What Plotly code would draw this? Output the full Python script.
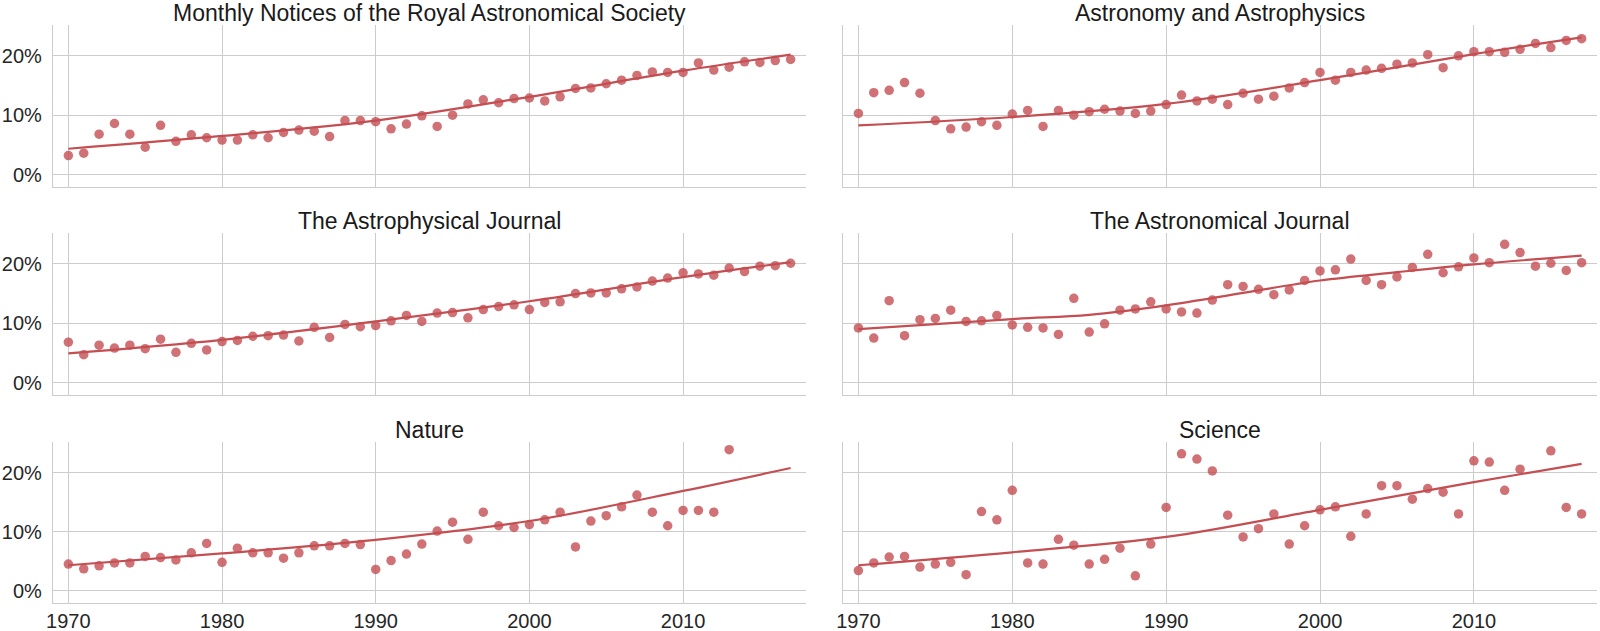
import plotly.graph_objects as go

years = list(range(1970, 2018))

titles = [
    "Monthly Notices of the Royal Astronomical Society",
    "Astronomy and Astrophysics",
    "The Astrophysical Journal",
    "The Astronomical Journal",
    "Nature",
    "Science",
]

# share of female authors (%), read per year 1970..2017 (None = no data)
mnras = [3.2, 3.6, 6.8, 8.6, 6.8, 4.6, 8.3, 5.6, 6.7, 6.2,
         5.8, 5.8, 6.7, 6.2, 7.1, 7.5, 7.3, 6.4, 9.1, 9.1,
         8.9, 7.7, 8.5, 9.9, 8.1, 10.0, 11.9, 12.6, 12.1, 12.8,
         12.9, 12.4, 13.1, 14.5, 14.6, 15.3, 15.9, 16.7, 17.3, 17.2,
         17.2, 18.8, 17.6, 18.1, 19.0, 18.9, 19.2, 19.4]
aa = [10.3, 13.8, 14.2, 15.5, 13.7, 9.1, 7.7, 8.0, 8.9, 8.3,
      10.2, 10.8, 8.1, 10.8, 10.0, 10.6, 11.0, 10.7, 10.3, 10.7,
      11.8, 13.4, 12.4, 12.7, 11.8, 13.7, 12.7, 13.2, 14.6, 15.5,
      17.2, 15.9, 17.2, 17.6, 17.9, 18.6, 18.8, 20.2, 18.0, 20.0,
      20.7, 20.7, 20.6, 21.1, 22.1, 21.4, 22.6, 22.9]
apj = [6.8, 4.7, 6.3, 5.8, 6.3, 5.7, 7.3, 5.1, 6.6, 5.5,
       6.9, 7.1, 7.8, 7.9, 8.0, 7.0, 9.3, 7.6, 9.8, 9.4,
       9.6, 10.4, 11.3, 10.3, 11.7, 11.8, 10.9, 12.3, 12.8, 13.1,
       12.3, 13.5, 13.6, 15.0, 15.1, 15.1, 15.8, 16.1, 17.1, 17.6,
       18.5, 18.3, 18.1, 19.3, 18.7, 19.6, 19.7, 20.1]
aj = [9.2, 7.5, 13.8, 7.9, 10.6, 10.8, 12.2, 10.3, 10.4, 11.3,
      9.7, 9.3, 9.2, 8.1, 14.2, 8.5, 9.9, 12.2, 12.4, 13.6,
      12.4, 11.9, 11.7, 13.9, 16.5, 16.2, 15.7, 14.8, 15.6, 17.2,
      18.8, 19.0, 20.8, 17.2, 16.5, 17.8, 19.4, 21.6, 18.5, 19.5,
      21.0, 20.2, 23.3, 21.9, 19.6, 20.1, 18.9, 20.2]
nature = [4.5, 3.7, 4.2, 4.7, 4.7, 5.8, 5.6, 5.2, 6.4, 8.0,
          4.8, 7.2, 6.4, 6.4, 5.5, 6.4, 7.6, 7.6, 8.0, 7.8,
          3.6, 5.1, 6.2, 7.9, 10.1, 11.6, 8.7, 13.3, 11.0, 10.7,
          11.2, 12.0, 13.3, 7.4, 11.8, 12.7, 14.2, 16.2, 13.3, 11.0,
          13.6, 13.6, 13.3, 23.9, None, None, None, None]
science = [3.4, 4.7, 5.7, 5.8, 4.0, 4.5, 4.8, 2.7, 13.4, 12.0,
           17.0, 4.7, 4.5, 8.7, 7.7, 4.5, 5.3, 7.2, 2.5, 7.9,
           14.1, 23.2, 22.3, 20.3, 12.8, 9.1, 10.5, 13.0, 7.9, 11.0,
           13.7, 14.2, 9.2, 13.0, 17.8, 17.8, 15.5, 17.3, 16.7, 13.0,
           22.0, 21.8, 17.0, 20.6, None, 23.7, 14.1, 13.0]

series = [mnras, aa, apj, aj, nature, science]

# fitted trend line at these years
trend_years = [
    [1970, 1980, 1990, 2000, 2010, 2017],
    [1970, 1980, 1990, 2000, 2010, 2017],
    [1970, 1980, 1990, 2000, 2010, 2017],
    [1970, 1980, 1985, 1990, 1995, 2000, 2005, 2010, 2017],
    [1970, 1980, 1990, 2000, 2010, 2017],
    [1970, 1980, 1990, 2000, 2010, 2017],
]
trend_vals = [
    [4.35, 6.5, 9.1, 13.1, 17.5, 20.2],
    [8.3, 9.7, 11.9, 15.9, 20.3, 23.1],
    [4.9, 7.2, 10.3, 13.7, 17.75, 20.3],
    [9.0, 10.7, 11.4, 13.0, 15.1, 17.2, 18.6, 19.9, 21.4],
    [4.3, 6.3, 8.6, 11.8, 16.9, 20.8],
    [4.3, 6.5, 9.1, 13.7, 18.4, 21.5],
]

x_ticks = [1970, 1980, 1990, 2000, 2010]
y_ticks = [0, 10, 20]
y_tick_text = ["0%", "10%", "20%"]

W, H = 1600, 631
ML, MR, MT, MB = 53, 3, 25, 28
PW, PH = W - ML - MR, H - MT - MB

def xdom(x0, x1):
    return [(x0 - ML) / PW, (x1 - ML) / PW]

def ydom(top, bot):
    return [(H - MB - bot) / PH, (H - MB - top) / PH]

col_px = [(53, 806), (843, 1597)]
row_px = [(25, 187), (233, 395), (442, 603)]

RED = "#c44e52"
GRID = "#cccccc"
TXT = "#262626"
FONT = "Liberation Sans, Arial, sans-serif"
TICK = 20

fig = go.Figure()
layout = dict(
    width=W, height=H,
    margin=dict(l=ML, r=MR, t=MT, b=MB, autoexpand=False),
    paper_bgcolor="white", plot_bgcolor="white",
    showlegend=False,
    font=dict(family=FONT, color=TXT, size=TICK),
    annotations=[],
)

for i in range(6):
    r, c = divmod(i, 2)
    idx = i + 1
    xa = "x" if idx == 1 else f"x{idx}"
    ya = "y" if idx == 1 else f"y{idx}"
    xs = [yv for yv, v in zip(years, series[i]) if v is not None]
    vs = [v for v in series[i] if v is not None]
    fig.add_trace(go.Scatter(
        x=trend_years[i], y=trend_vals[i], mode="lines",
        line=dict(color=RED, width=2.2, shape="spline", smoothing=1.0),
        xaxis=xa, yaxis=ya, hoverinfo="skip"))
    fig.add_trace(go.Scatter(
        x=xs, y=vs, mode="markers",
        marker=dict(color="rgba(196,78,82,0.8)", size=9.5, line=dict(width=0)),
        xaxis=xa, yaxis=ya))
    xd = xdom(*col_px[c])
    yd = ydom(*row_px[r])
    layout["xaxis" + ("" if idx == 1 else str(idx))] = dict(
        domain=xd, anchor=ya, range=[1969, 2018], automargin=False,
        tickvals=x_ticks, showticklabels=(r == 2),
        showgrid=True, gridcolor=GRID, gridwidth=1.2, zeroline=False,
        showline=True, linecolor=GRID, linewidth=1.3,
        ticks="",
        tickfont=dict(size=TICK, color=TXT, family=FONT),
    )
    layout["yaxis" + ("" if idx == 1 else str(idx))] = dict(
        domain=yd, anchor=xa, range=[-2.1, 25.2], automargin=False,
        tickvals=y_ticks, ticktext=y_tick_text, showticklabels=(c == 0),
        showgrid=True, gridcolor=GRID, gridwidth=1.2, zeroline=False,
        showline=True, linecolor=GRID, linewidth=1.3,
        ticks="outside", ticklen=6, tickcolor="rgba(0,0,0,0)",
        tickfont=dict(size=TICK, color=TXT, family=FONT),
    )
    layout["annotations"].append(dict(
        text=titles[i], xref="paper", yref="paper",
        x=(xd[0] + xd[1]) / 2, y=yd[1], xanchor="center", yanchor="bottom",
        yshift=-3, showarrow=False,
        font=dict(size=23, color="#1a1a1a", family=FONT),
    ))

fig.update_layout(**layout)
fig.write_html(
    "out.html",
    config={"displayModeBar": False},
    post_script="document.body.style.margin='0';document.body.style.overflow='hidden';",
)
